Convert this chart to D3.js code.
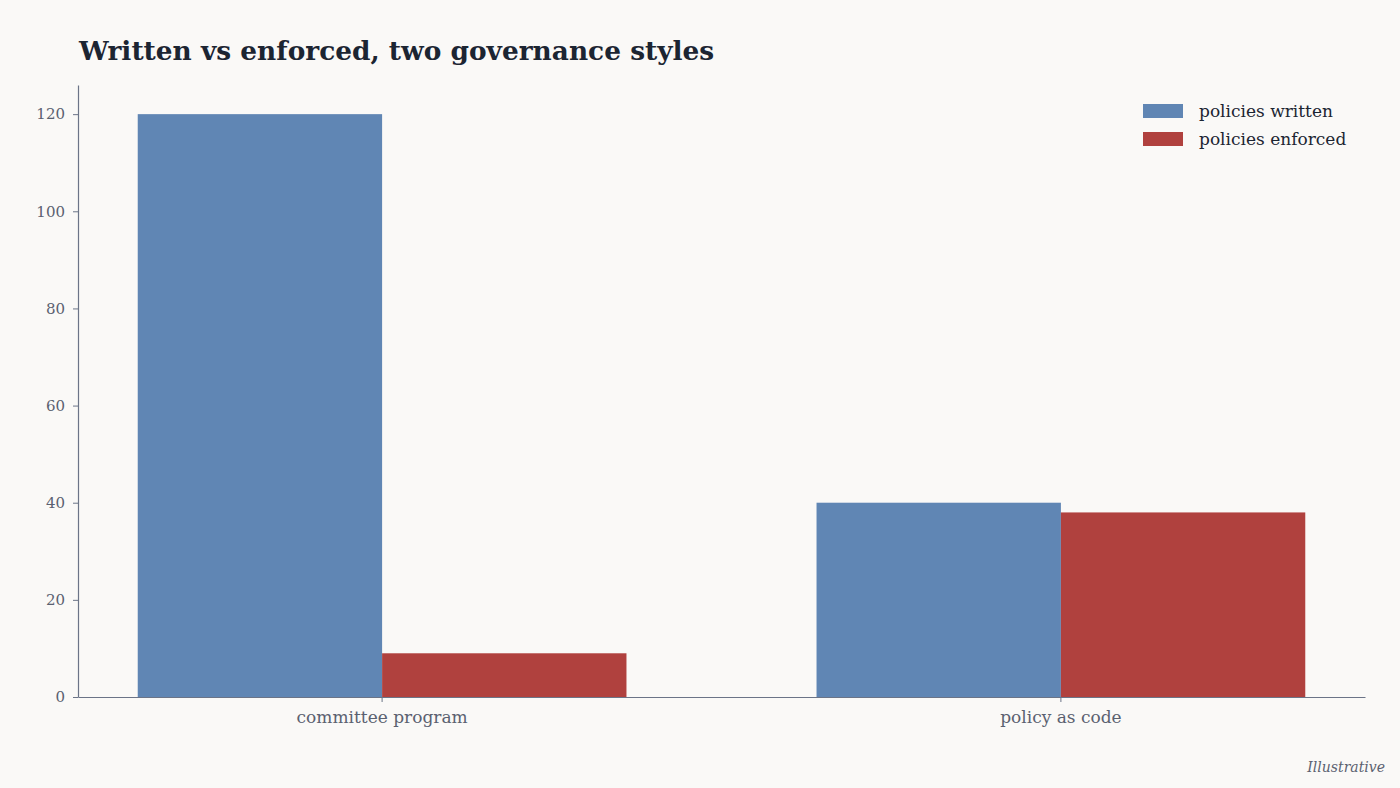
<!DOCTYPE html>
<html>
<head>
<meta charset="utf-8">
<script src="https://cdn.jsdelivr.net/npm/d3@7"></script>
<style>
  html, body { margin: 0; padding: 0; background: #faf9f7; }
  svg { display: block; }
  text { font-family: Georgia, "DejaVu Serif", serif; }
</style>
</head>
<body>
<svg id="chart" width="1400" height="788"></svg>
<script>
const categories = ["committee program", "policy as code"];
const seriesNames = ["policies written", "policies enforced"];
const written = [120, 40];
const enforced = [9, 38];
const yTicks = [0, 20, 40, 60, 80, 100, 120];
const colors = ["#6086b4", "#b0413e"];

const W = 1400, H = 788;
const margin = { top: 85, right: 35, bottom: 91, left: 78 };
const svg = d3.select("#chart");
svg.append("rect").attr("width", W).attr("height", H).attr("fill", "#faf9f7");

const x0 = d3.scaleBand().domain(categories)
  .range([margin.left, W - margin.right]).paddingInner(0.28).paddingOuter(0.088);
const x1 = d3.scaleBand().domain(seriesNames).range([0, x0.bandwidth()]).padding(0);
const y = d3.scaleLinear().domain([0, 126]).range([H - margin.bottom, margin.top]);

const data = categories.map((c, i) => ({ cat: c, vals: [written[i], enforced[i]] }));

const g = svg.append("g");
g.selectAll("g.grp").data(data).join("g")
  .attr("transform", d => `translate(${x0(d.cat)},0)`)
  .selectAll("rect").data(d => d.vals.map((v, j) => ({ s: seriesNames[j], v, j })))
  .join("rect")
  .attr("x", d => x1(d.s))
  .attr("width", x1.bandwidth())
  .attr("y", d => y(d.v))
  .attr("height", d => y(0) - y(d.v))
  .attr("fill", d => colors[d.j]);

const axisColor = "#6b7487";
const yAxis = svg.append("g").attr("transform", `translate(${margin.left},0)`)
  .call(d3.axisLeft(y).tickValues(yTicks).tickSize(5).tickPadding(8).tickSizeOuter(0));
const xAxis = svg.append("g").attr("transform", `translate(0,${H - margin.bottom})`)
  .call(d3.axisBottom(x0).tickSize(5).tickPadding(9).tickSizeOuter(0));
[yAxis, xAxis].forEach(a => {
  a.select(".domain").attr("stroke", axisColor).attr("stroke-width", 1.2);
  a.selectAll(".tick line").attr("stroke", axisColor);
});
yAxis.selectAll(".tick text").attr("fill", "#5a6170").style("font-size", "15px");
xAxis.selectAll(".tick text").attr("fill", "#5a6170").style("font-size", "17px");

svg.append("text").attr("x", 79).attr("y", 60)
  .attr("fill", "#1c2532").style("font-size", "26.4px").style("font-weight", "bold")
  .text("Written vs enforced, two governance styles");

const leg = svg.append("g");
seriesNames.forEach((s, i) => {
  leg.append("rect").attr("x", 1143).attr("y", 104 + i * 28).attr("width", 40).attr("height", 14)
    .attr("fill", colors[i]);
  leg.append("text").attr("x", 1199).attr("y", 117 + i * 28)
    .attr("fill", "#1c2532").style("font-size", "17px").text(s);
});

svg.append("text").attr("x", 1385).attr("y", 772).attr("text-anchor", "end")
  .attr("fill", "#5a6170").style("font-size", "14px").style("font-style", "italic")
  .text("Illustrative");
</script>
</body>
</html>
